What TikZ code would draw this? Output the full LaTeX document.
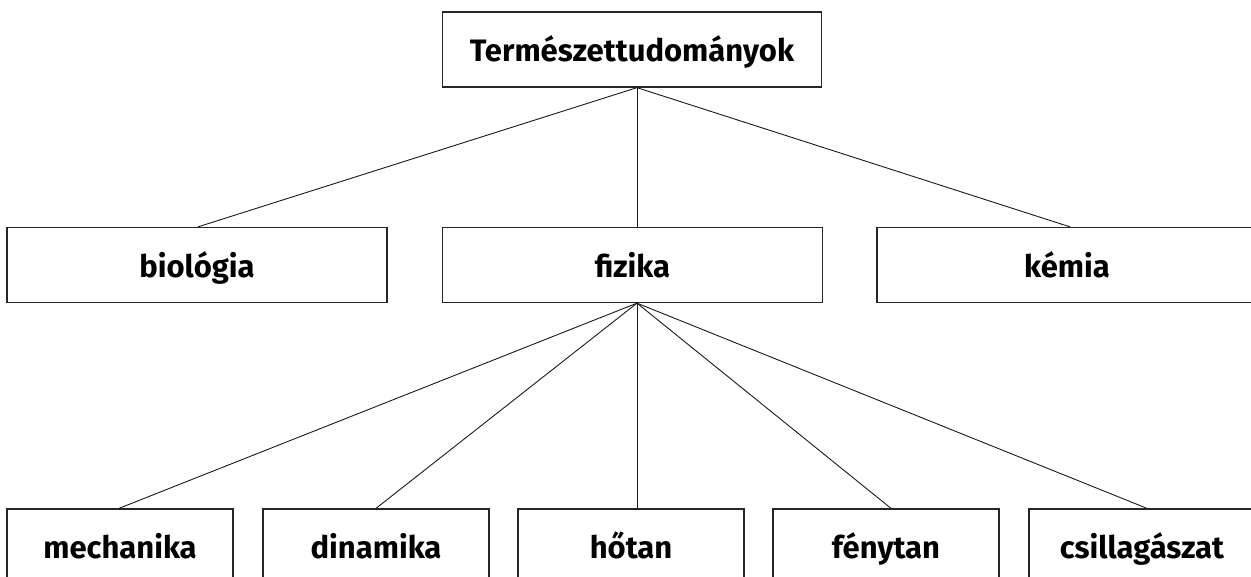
\documentclass[tikz,border=0pt]{standalone}
\usepackage{fontspec}
\setmainfont{Fira Sans}
\begin{document}
\begin{tikzpicture}[x=1pt,y=-1pt,
  box/.style={draw=black!85,line width=1.3pt,inner sep=0pt,minimum height=75pt,
    text height=24pt,text depth=0pt,font=\fontsize{31}{36}\selectfont\bfseries},
  wide/.style={box,minimum width=380pt},
  narrow/.style={box,minimum width=226pt,minimum height=74pt},
  conn/.style={line width=0.9pt,draw=black!90}]
\useasboundingbox (0,0) rectangle (1251,576);
\node[wide,minimum width=379pt] (top) at (632,49.5) {Természettudományok};
\node[wide] (bio) at (197,265) {biológia};
\node[wide] (fiz) at (632.5,265) {fizika};
\node[wide] (kem) at (1067,265) {kémia};
\node[narrow] (mech) at (120,546) {mechanika};
\node[narrow] (din) at (376,546) {dinamika};
\node[narrow] (hot) at (631,546) {hőtan};
\node[narrow] (feny) at (886,546) {fénytan};
\node[narrow] (csill) at (1142,546) {csillagászat};
\coordinate (a1) at ([xshift=5pt]top.south);
\coordinate (a2) at ([xshift=4.5pt]fiz.south);
\draw[conn] (a1) -- ([xshift=1pt]bio.north);
\draw[conn] (a1) -- ([xshift=4.5pt]fiz.north);
\draw[conn] (a1) -- ([xshift=3pt]kem.north);
\draw[conn] (a2) -- ([xshift=-1pt]mech.north);
\draw[conn] (a2) -- (din.north);
\draw[conn] (a2) -- ([xshift=6pt]hot.north);
\draw[conn] (a2) -- ([xshift=5pt]feny.north);
\draw[conn] (a2) -- ([xshift=5pt]csill.north);
\end{tikzpicture}
\end{document}
